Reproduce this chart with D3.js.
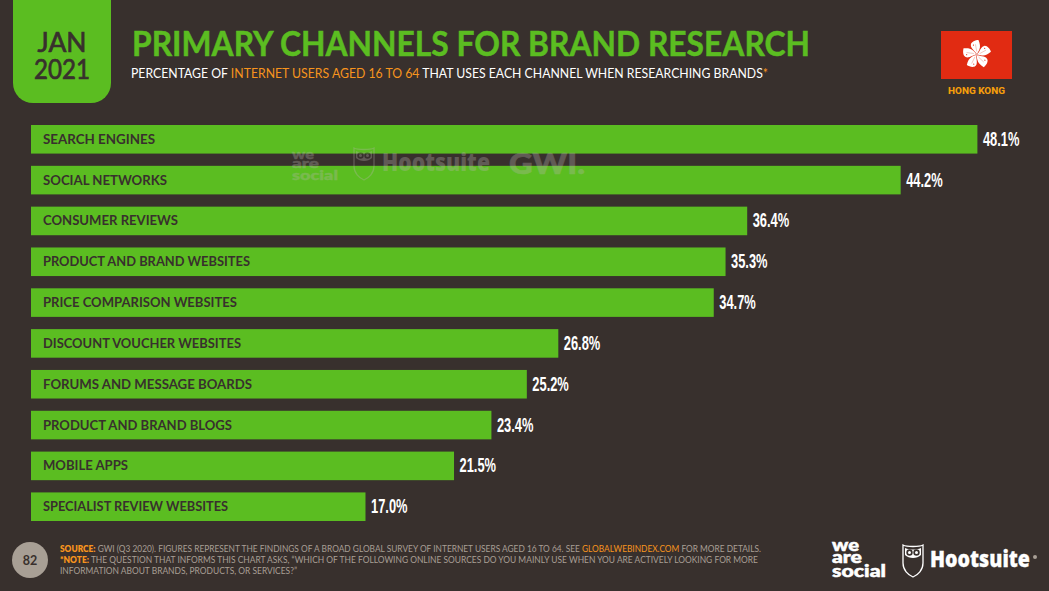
<!DOCTYPE html>
<html><head><meta charset="utf-8">
<script src="https://cdn.jsdelivr.net/npm/d3@7"></script>
<style>html,body{margin:0;padding:0;background:#38302d;overflow:hidden}svg{display:block}</style>
</head><body><svg id="c" width="1049" height="591"></svg>
<script>
const categories = ["SEARCH ENGINES","SOCIAL NETWORKS","CONSUMER REVIEWS","PRODUCT AND BRAND WEBSITES","PRICE COMPARISON WEBSITES","DISCOUNT VOUCHER WEBSITES","FORUMS AND MESSAGE BOARDS","PRODUCT AND BRAND BLOGS","MOBILE APPS","SPECIALIST REVIEW WEBSITES"];
const values = [48.1,44.2,36.4,35.3,34.7,26.8,25.2,23.4,21.5,17.0];
const labelWidths = [112,124,135,207,194,198,209,189,85,185];
const valueLabels = ["48.1%","44.2%","36.4%","35.3%","34.7%","26.8%","25.2%","23.4%","21.5%","17.0%"];

const GREEN="#5bbd21",BG="#38302d",ORANGE="#f7941d",GREY="#a89f95";
const svg=d3.select("#c");
const F="Lato, 'Open Sans', sans-serif";
svg.append("rect").attr("width",1049).attr("height",591).attr("fill",BG);

const x=d3.scaleLinear().domain([0,48.1]).range([31,977.4]);
const y=d3.scaleBand().domain(categories).range([125,521]).paddingInner(0.3).paddingOuter(0);

function txt(g,s,px,py,o={}){
  const t=g.append("text").attr("x",px).attr("y",py).text(s)
   .attr("font-family",o.f||F).attr("font-size",o.size||12).attr("font-weight",o.w||400)
   .attr("fill",o.fill||"#fff").attr("text-anchor",o.a||"start");
  if(o.len) t.attr("textLength",o.len).attr("lengthAdjust","spacingAndGlyphs");
  if(o.sw) t.attr("stroke",o.fill||"#fff").attr("stroke-width",o.sw);
  return t;
}

// Date tab
svg.append("path").attr("d","M13,0H111V83a20,20 0 0 1 -20,20H33a20,20 0 0 1 -20,-20Z").attr("fill",GREEN);
txt(svg,"JAN",62,52,{size:27,w:400,fill:BG,a:"middle",len:49,sw:.7});
txt(svg,"2021",62,79,{size:27,w:400,fill:BG,a:"middle",len:56,sw:.7});

// Title
txt(svg,"PRIMARY CHANNELS FOR BRAND RESEARCH",132,56,{size:34,w:700,fill:GREEN,len:678,sw:.5});
const sub=txt(svg,"",131,78,{size:13.2});
sub.attr("textLength",637).attr("lengthAdjust","spacingAndGlyphs");
sub.append("tspan").text("PERCENTAGE OF ");
sub.append("tspan").attr("fill",ORANGE).text("INTERNET USERS AGED 16 TO 64");
sub.append("tspan").text(" THAT USES EACH CHANNEL WHEN RESEARCHING BRANDS");
sub.append("tspan").attr("fill",ORANGE).text("*");

// Flag
svg.append("rect").attr("x",941).attr("y",31).attr("width",71).attr("height",48).attr("fill","#e12b12");
const fl=svg.append("g").attr("transform","translate(976.7,54.5)");
d3.range(5).forEach(i=>{
  const p=fl.append("g").attr("transform",`rotate(${i*72+7})`);
  p.append("path").attr("d","M0,0C-1,-3 -7,-5 -7,-9C-7,-12 -3,-14 0,-14.5C2,-11 3,-8 2,-5C1.5,-3 .5,-1.5 0,0Z").attr("fill","#fff");
  p.append("path").attr("d","M-.3,-3L-2.5,-10").attr("stroke","#e9a9a0").attr("stroke-width",.6);
  p.append("circle").attr("cx",-4.4).attr("cy",-9).attr("r",.6).attr("fill","#e12b12");
});
fl.append("circle").attr("r",1.6).attr("fill","#eaa79f");
txt(svg,"HONG KONG",976.5,94,{size:9.5,w:800,fill:"#f59e0b",a:"middle",f:"Roboto, sans-serif",len:57});

// Bars
const bh=y.bandwidth();
svg.append("g").selectAll("rect").data(categories).join("rect")
  .attr("x",x(0)).attr("y",d=>y(d)).attr("height",bh)
  .attr("width",(d,i)=>x(values[i])-x(0)).attr("fill",GREEN);

const lab=svg.append("g");
categories.forEach((c,i)=>{
  txt(lab,c,43,y(c)+bh/2+4.5,{size:14,w:700,fill:BG,len:labelWidths[i]});
  txt(lab,valueLabels[i],x(values[i])+5.5,y(c)+bh/2+6.5,{size:19.5,w:700,fill:"#fff",f:"'Liberation Sans Narrow','Liberation Sans',sans-serif",len:36.5});
});

// Owl helper
function owl(g,ox,oy,s,col,op){
  const o=g.append("g").attr("transform",`translate(${ox},${oy}) scale(${s})`).attr("opacity",op);
  o.append("path").attr("d","M1,1C5,3 17,3 21,1V19C21,26 16,31 11,33C6,31 1,26 1,19Z").attr("fill","none").attr("stroke",col).attr("stroke-width",1.3);
  o.append("path").attr("d","M3,4C8,6 14,6 19,4V11C15,15 7,15 3,11Z").attr("fill",col);
  [7.5,14.5].forEach(cx=>{
    o.append("circle").attr("cx",cx).attr("cy",8.5).attr("r",3.2).attr("fill",BG);
    o.append("circle").attr("cx",cx).attr("cy",8.5).attr("r",1.5).attr("fill",col);
  });
}

// Watermark
const wm=svg.append("g");
const WC="#b9b4ae",WO=0.32;
[["we",159],["are",168],["social",180]].forEach(([t,py],i)=>{
  txt(wm,t,292,py-.5,{size:13.5,w:900,fill:WC,f:"Lato, sans-serif",len:[22,27,46][i],sw:.4}).attr("opacity",WO);
});
owl(wm,353,147,1,WC,WO);
txt(wm,"Hootsuite",382,171,{size:24,w:800,fill:WC,f:"'Open Sans',sans-serif",len:108}).attr("opacity",WO);
txt(wm,"GWI.",509,174,{size:29,w:900,fill:WC,f:"Lato, sans-serif",len:76,sw:.6}).attr("opacity",WO);

// Page badge
svg.append("circle").attr("cx",30).attr("cy",560).attr("r",18).attr("fill",GREY);
txt(svg,"82",30,565,{size:12.5,w:700,fill:BG,a:"middle"});

// Footnotes
const fs=8.6;
const l1=txt(svg,"",60,552,{size:fs,fill:GREY,len:701});
l1.append("tspan").attr("fill",ORANGE).attr("font-weight",800).text("SOURCE:");
l1.append("tspan").text(" GWI (Q3 2020). FIGURES REPRESENT THE FINDINGS OF A BROAD GLOBAL SURVEY OF INTERNET USERS AGED 16 TO 64. SEE ");
l1.append("tspan").attr("fill",ORANGE).text("GLOBALWEBINDEX.COM");
l1.append("tspan").text(" FOR MORE DETAILS.");
const l2=txt(svg,"",60,563,{size:fs,fill:GREY,len:698});
l2.append("tspan").attr("fill",ORANGE).attr("font-weight",800).text("*NOTE:");
l2.append("tspan").text(" THE QUESTION THAT INFORMS THIS CHART ASKS, “WHICH OF THE FOLLOWING ONLINE SOURCES DO YOU MAINLY USE WHEN YOU ARE ACTIVELY LOOKING FOR MORE");
txt(svg,"INFORMATION ABOUT BRANDS, PRODUCTS, OR SERVICES?”",60,574,{size:fs,fill:GREY,len:237});

// Logos
[["we",551],["are",563],["social",577]].forEach(([t,py],i)=>{
  txt(svg,t,832,py,{size:16,w:900,fill:"#fff",f:"Lato, sans-serif",len:[27,30,54][i],sw:.5});
});
owl(svg,902,544,1,"#fff",1);
txt(svg,"Hootsuite",930,567,{size:22,w:800,fill:"#fff",f:"'Open Sans',sans-serif",len:100,sw:.3});
svg.append("circle").attr("cx",1035).attr("cy",557).attr("r",2).attr("fill",GREY);
</script></body></html>
